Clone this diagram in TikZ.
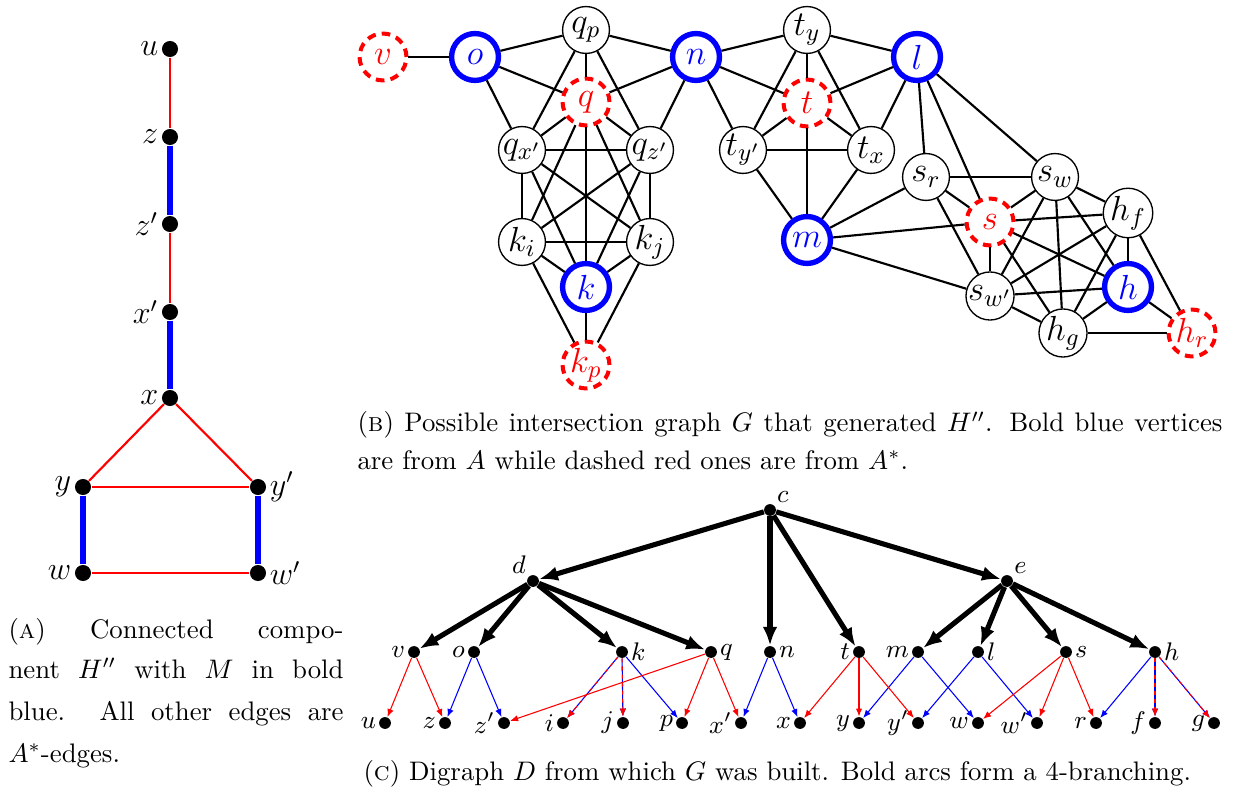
\RequirePackage{fix-cm}
\documentclass[tikz,border=0pt]{standalone}
\usetikzlibrary{arrows.meta}
\begin{document}
\begin{tikzpicture}[x=0.3731pt,y=-0.3731pt,
  dotA/.style={circle,fill=black,inner sep=0pt,minimum size=6pt,
    label distance=0pt},
  labA/.style={font=\fontsize{12}{14}\selectfont,inner sep=1pt},
  redA/.style={red,line width=0.8pt},
  blueA/.style={blue,line width=2.4pt},
  gv/.style={circle,draw=black,fill=white,line width=0.5pt,inner sep=0pt,
    minimum size=17.5pt,font=\fontsize{13}{15}\selectfont},
  gA/.style={gv,draw=blue,line width=2pt,text=blue},
  gS/.style={gv,draw=red,line width=1.5pt,text=red,dash pattern=on 3.2pt off 2.3pt},
  ge/.style={line width=0.8pt},
  cdot/.style={circle,fill=black,inner sep=0pt,minimum size=4.4pt},
  clab/.style={font=\fontsize{9.5}{11}\selectfont,inner sep=0.8pt},
  bigarc/.style={-{Latex[length=7pt,width=5.5pt]},line width=1.9pt},
  ra/.style={-{Latex[length=3pt,width=2.4pt]},red,line width=0.4pt},
  ba/.style={-{Latex[length=3pt,width=2.4pt]},blue,line width=0.4pt},
  rd/.style={ra,dash pattern=on 1.5pt off 1.5pt},
  captxt/.style={anchor=base west,inner sep=0pt,font=\fontsize{10}{12}\selectfont}
]
\useasboundingbox (0,0) rectangle (1233,797);

% ---------------- (A) ----------------
\node[dotA,label={[labA]left:$u$}] (au) at (170,49) {};
\node[dotA,label={[labA]left:$z$}] (az) at (170,137) {};
\node[dotA,label={[labA]left:$z'$}] (azp) at (170,224) {};
\node[dotA,label={[labA]left:$x'$}] (axp) at (170,312) {};
\node[dotA,label={[labA]left:$x$}] (ax) at (170,398) {};
\node[dotA,label={[labA]left:$y$}] (ay) at (83,487) {};
\node[dotA,label={[labA]right:$y'$}] (ayp) at (258,487) {};
\node[dotA,label={[labA]left:$w$}] (aw) at (83,573) {};
\node[dotA,label={[labA]right:$w'$}] (awp) at (258,573) {};
\draw[redA] (au) -- (az);
\draw[blueA] (az) -- (azp);
\draw[redA] (azp) -- (axp);
\draw[blueA] (axp) -- (ax);
\draw[redA] (ax) -- (ay);
\draw[redA] (ax) -- (ayp);
\draw[redA] (ay) -- (ayp);
\draw[blueA] (ay) -- (aw);
\draw[blueA] (ayp) -- (awp);
\draw[redA] (aw) -- (awp);

\node[captxt] (capA1) at (8,638) {\makebox[125pt][s]{(\textsc{a}) Connected compo-}};
\node[captxt] (capA2) at (8,678) {\makebox[125pt][s]{nent $H''$ with $M$ in bold}};
\node[captxt] (capA3) at (8,720) {\makebox[125pt][s]{blue. All other edges are}};
\node[captxt] (capA4) at (8,762) {$A^*$-edges.};

% ---------------- (B) ----------------
\node[gS] (bv) at (383,57) {$v$};
\node[gA] (bo) at (475,57) {$o$};
\node[gv] (bqp) at (586,30) {$q_p$};
\node[gS] (bq) at (586,102) {$q$};
\node[gA] (bn) at (696,57) {$n$};
\node[gv] (bqx) at (522,150) {$q_{x'}$};
\node[gv] (bqz) at (650,150) {$q_{z'}$};
\node[gv] (bki) at (522,242) {$k_i$};
\node[gv] (bkj) at (650,242) {$k_j$};
\node[gA] (bk) at (586,287) {$k$};
\node[gS] (bkp) at (586,365) {$k_p$};
\node[gv] (bty) at (807,30) {$t_y$};
\node[gS] (bt) at (807,103) {$t$};
\node[gA] (bl) at (917,57) {$l$};
\node[gv] (btyp) at (743,150) {$t_{y'}$};
\node[gv] (btx) at (871,150) {$t_x$};
\node[gA] (bm) at (807,240) {$m$};
\node[gv] (bsr) at (926,177) {$s_r$};
\node[gv] (bsw) at (1055,177) {$s_w$};
\node[gS] (bs) at (990,222) {$s$};
\node[gv] (bhf) at (1128,213) {$h_f$};
\node[gA] (bh) at (1128,287) {$h$};
\node[gv] (bswp) at (990,296) {$s_{w'}$};
\node[gv] (bhg) at (1063,333) {$h_g$};
\node[gS] (bhr) at (1192,333) {$h_r$};

\foreach \a/\b in {bv/bo, bo/bqp, bo/bq, bo/bqx, bqp/bn, bqp/bq, bqp/bqx, bqp/bqz,
  bn/bq, bn/bqz, bn/bty, bn/bt, bn/btyp,
  bq/bqx, bq/bqz, bq/bki, bq/bkj, bq/bk,
  bqx/bqz, bqx/bki, bqx/bkj, bqx/bk, bqz/bki, bqz/bkj, bqz/bk,
  bki/bkj, bki/bk, bkj/bk, bki/bkp, bkj/bkp, bk/bkp,
  bty/bl, bty/bt, bty/btyp, bty/btx, bl/bt, bl/btx, bt/btyp, bt/btx, bt/bm,
  btyp/btx, btyp/bm, btx/bm,
  bl/bsr, bl/bs, bl/bsw, bm/bsr, bm/bs, bm/bswp,
  bsr/bsw, bsr/bs, bsr/bswp,
  bs/bsw, bs/bhf, bs/bh, bs/bhg, bs/bswp,
  bsw/bhf, bsw/bh, bsw/bhg, bsw/bswp,
  bhf/bswp, bhf/bhg, bhf/bh, bhf/bhr,
  bh/bswp, bh/bhg, bh/bhr, bswp/bhg, bhg/bhr}
  \draw[ge] (\a) -- (\b);

\node[captxt] (capB1) at (357,432) {\makebox[322.7pt][s]{(\textsc{b}) Possible intersection graph $G$ that generated $H''$. Bold blue vertices}};
\node[captxt] (capB2) at (357,469) {are from $A$ while dashed red ones are from $A^*$.};

% ---------------- (C) ----------------
\node[cdot,label={[clab]north east:$c$}] (cc) at (770,510) {};
\node[cdot,label={[clab]north west:$d$}] (cd) at (533,581) {};
\node[cdot,label={[clab]north east:$e$}] (ce) at (1007,581) {};

\node[cdot,label={[clab]left:$v$}] (cv) at (414,652) {};
\node[cdot,label={[clab]left:$o$}] (co) at (474,652) {};
\node[cdot,label={[clab]right:$k$}] (ck) at (622,652) {};
\node[cdot,label={[clab]right:$q$}] (cq) at (711,652) {};
\node[cdot,label={[clab]right:$n$}] (cn) at (770,652) {};
\node[cdot,label={[clab]left:$t$}] (ct) at (859,652) {};
\node[cdot,label={[clab]left:$m$}] (cm) at (918,652) {};
\node[cdot,label={[clab]right:$l$}] (cl) at (978,652) {};
\node[cdot,label={[clab]right:$s$}] (cs) at (1066,652) {};
\node[cdot,label={[clab]right:$h$}] (ch) at (1155,652) {};

\node[cdot,label={[clab]left:$u$}] (cu) at (385,723) {};
\node[cdot,label={[clab]left:$z$}] (cz) at (445,723) {};
\node[cdot,label={[clab]left:$z'$}] (czp) at (504,723) {};
\node[cdot,label={[clab]left:$i$}] (ci) at (563,723) {};
\node[cdot,label={[clab]left:$j$}] (cj) at (623,723) {};
\node[cdot,label={[clab]left:$p$}] (cp) at (682,723) {};
\node[cdot,label={[clab]left:$x'$}] (cxp) at (741,723) {};
\node[cdot,label={[clab]left:$x$}] (cx) at (800,723) {};
\node[cdot,label={[clab]left:$y$}] (cy) at (859,723) {};
\node[cdot,label={[clab]left:$y'$}] (cyp) at (918,723) {};
\node[cdot,label={[clab]left:$w$}] (cw) at (978,723) {};
\node[cdot,label={[clab]left:$w'$}] (cwp) at (1037,723) {};
\node[cdot,label={[clab]left:$r$}] (cr) at (1096,723) {};
\node[cdot,label={[clab]left:$f$}] (cf) at (1155,723) {};
\node[cdot,label={[clab]left:$g$}] (cg) at (1214,723) {};

\foreach \a/\b in {cc/cd, cc/cn, cc/ct, cc/ce, cd/cv, cd/co, cd/ck, cd/cq,
  ce/cm, ce/cl, ce/cs, ce/ch}
  \draw[bigarc] (\a) -- (\b);

\foreach \a/\b in {co/cz, co/czp, ck/ci, ck/cj, ck/cp, cn/cxp, cn/cx,
  cm/cy, cm/cw, cl/cyp, cl/cwp, ch/cr, ch/cf, ch/cg}
  \draw[ba] (\a) -- (\b);
\foreach \a/\b in {cv/cu, cv/cz, cq/czp, cq/cp, cq/cxp, ct/cx, ct/cy, ct/cyp,
  cs/cw, cs/cwp, cs/cr}
  \draw[ra] (\a) -- (\b);
\foreach \a/\b in {ck/ci, ck/cj, ch/cf, ch/cg}
  \draw[rd] (\a) -- (\b);

\node[captxt] (capC) at (363,780) {(\textsc{c}) Digraph $D$ from which $G$ was built. Bold arcs form a 4-branching.};
\end{tikzpicture}
\end{document}
